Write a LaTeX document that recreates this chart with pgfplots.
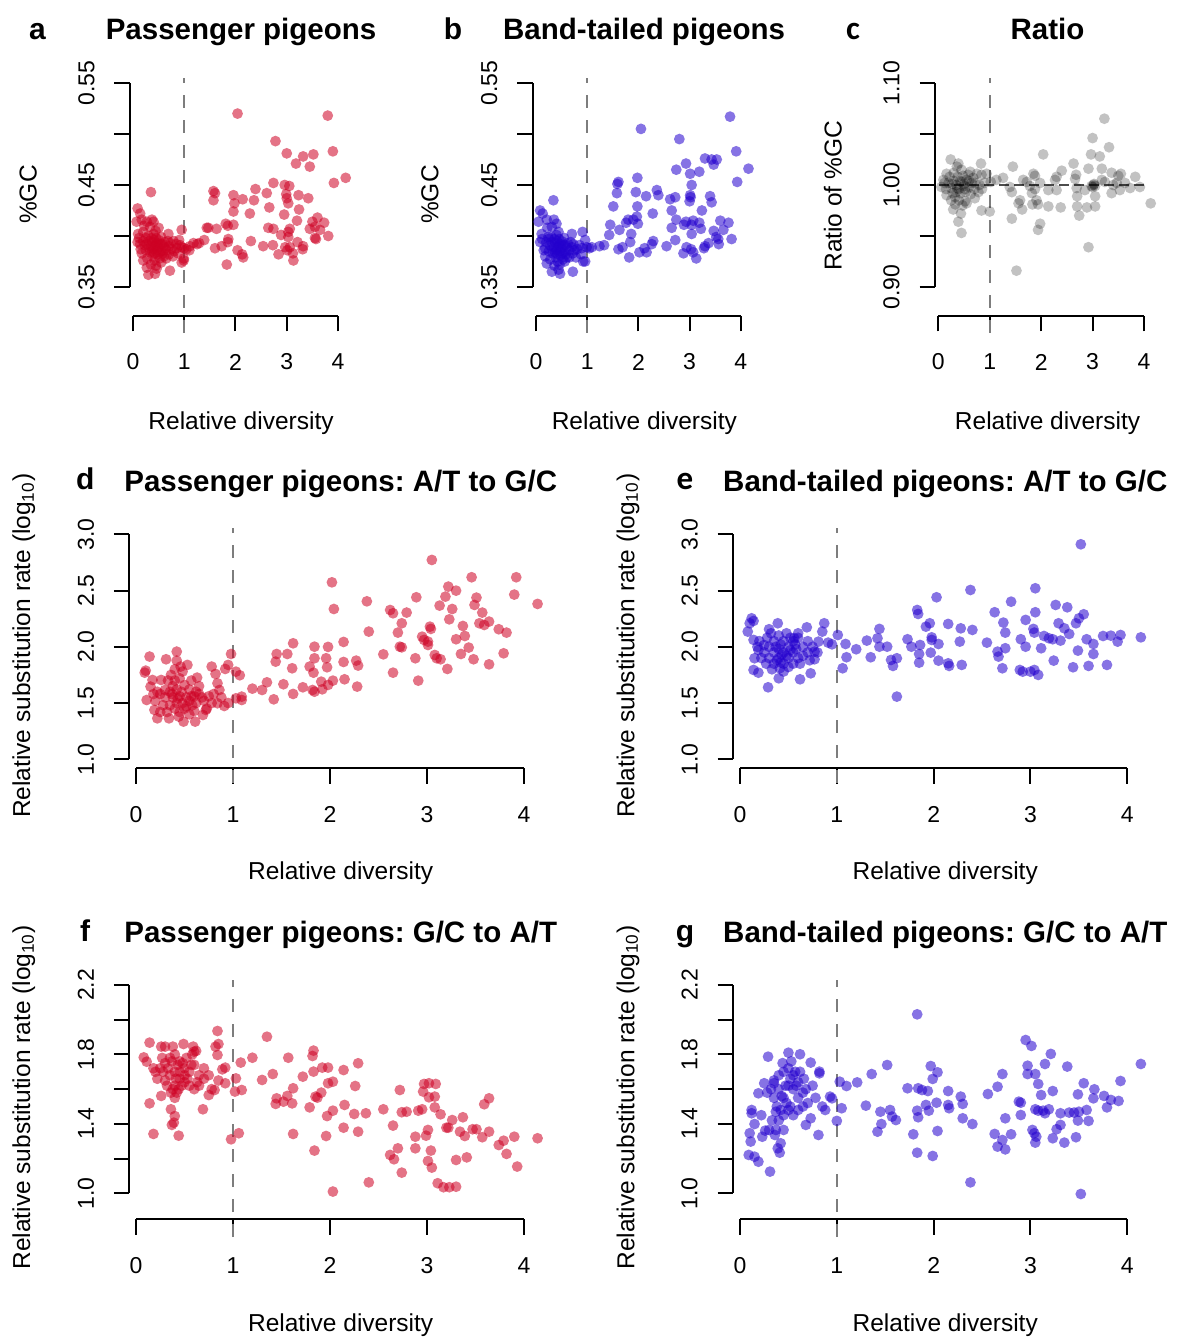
\documentclass[border=0pt]{standalone}
\usepackage{fontspec}
\setmainfont{Liberation Sans}
\newfontfamily\carlito{Carlito}
\usepackage{pgfplots}
\usepackage{pgfplotstable}
\pgfplotsset{compat=1.18}

\definecolor{pred}{RGB}{205,0,35}
\definecolor{pblue}{RGB}{35,0,205}
\definecolor{dashgray}{RGB}{125,125,125}

\pgfplotsset{
  every axis title shift=0pt,
  rpanel/.style={
    scale only axis,
    axis x line*=bottom, axis y line*=left,
    axis line style={-, line width=1pt, black},
    xmin=0, xmax=4, xtick={0,1,2,3,4},
    tick align=outside, major tick length=7.75pt,
    every tick/.style={black, line width=1pt},
    minor tick num=0,
    clip=false,
    /pgf/number format/assume math mode=true,
    tick label style={font=\fontsize{11.5}{13}\selectfont},
    xticklabel style={anchor=center},
    yticklabel style={rotate=90, anchor=center},
    xticklabel shift=15.25pt,
    yticklabel shift=14pt,
    label style={font=\fontsize{12.25}{14}\selectfont},
    title style={font=\fontsize{14.75}{17}\selectfont\bfseries, anchor=base},
    xlabel style={anchor=base},
    ylabel style={anchor=base},
    xlabel={Relative diversity},
  },
  pts/.style={only marks, mark=*, mark size=2.7pt, draw=none, fill=#1,
    mark options={fill=#1, draw opacity=0, fill opacity=0.55}},
  gpts/.style={only marks, mark=*, mark size=2.7pt, draw=none, fill=black,
    mark options={fill=black, draw opacity=0, fill opacity=0.24}},
  vdash/.style={dashgray, line width=0.85pt, dash pattern=on 6.5pt off 6pt},
}
\newcommand{\plet}[1]{\fontsize{15}{17}\selectfont\bfseries #1}
\newcommand{\pletc}[1]{\fontsize{16.5}{18}\selectfont\carlito\bfseries #1}

\pgfplotstableread{
x y
2.04 0.520
3.80 0.518
2.78 0.493
3.00 0.481
3.90 0.483
3.32 0.478
3.52 0.480
3.18 0.471
3.45 0.468
4.15 0.457
3.92 0.452
2.74 0.452
2.96 0.450
3.05 0.449
2.39 0.446
2.61 0.442
1.57 0.444
1.60 0.442
1.57 0.435
1.96 0.440
2.14 0.436
1.98 0.432
2.36 0.435
2.99 0.441
3.00 0.437
3.23 0.440
3.42 0.437
3.03 0.432
2.66 0.428
3.24 0.426
1.96 0.424
2.28 0.422
2.95 0.421
3.60 0.418
3.20 0.415
3.50 0.414
3.73 0.413
1.81 0.412
1.85 0.410
1.96 0.411
1.44 0.408
1.47 0.408
1.63 0.407
2.64 0.408
2.74 0.407
3.06 0.407
3.03 0.404
3.45 0.407
3.55 0.409
3.65 0.406
2.89 0.401
3.03 0.399
3.81 0.400
3.55 0.398
3.57 0.397
1.86 0.397
3.21 0.394
2.30 0.395
1.85 0.394
1.39 0.396
1.29 0.393
1.73 0.390
1.60 0.388
2.54 0.390
2.73 0.391
3.32 0.390
2.97 0.389
3.06 0.389
3.01 0.386
3.12 0.383
2.84 0.382
3.31 0.387
2.04 0.386
2.13 0.382
2.15 0.379
3.13 0.376
1.83 0.372
1.11 0.390
1.10 0.386
0.95 0.406
0.99 0.376
1.18 0.393
1.25 0.392
0.35 0.443
0.09 0.427
0.14 0.422
0.07 0.414
0.17 0.416
0.27 0.414
0.37 0.416
0.40 0.414
0.33 0.409
0.20 0.404
0.10 0.402
0.09 0.394
0.14 0.392
0.23 0.391
0.17 0.383
0.20 0.376
0.27 0.369
0.30 0.362
0.43 0.363
0.46 0.368
0.72 0.366
0.69 0.402
0.79 0.395
0.92 0.391
0.85 0.388
0.95 0.389
1.00 0.388
1.04 0.387
0.99 0.378
0.95 0.374
0.30 0.395
0.35 0.390
0.40 0.387
0.45 0.392
0.50 0.389
0.55 0.385
0.60 0.390
0.65 0.386
0.38 0.380
0.42 0.376
0.48 0.382
0.52 0.378
0.33 0.384
0.28 0.378
0.25 0.386
0.58 0.383
0.62 0.394
0.70 0.390
0.75 0.387
0.80 0.385
0.85 0.392
0.45 0.398
0.40 0.402
0.30 0.400
0.50 0.396
0.55 0.399
0.35 0.372
0.45 0.371
0.55 0.374
0.65 0.378
0.70 0.382
0.25 0.398
0.20 0.395
0.38 0.394
0.42 0.383
0.47 0.386
0.53 0.392
0.60 0.380
0.32 0.388
0.36 0.398
0.44 0.405
0.50 0.408
0.15 0.387
0.12 0.398
0.22 0.410
0.88 0.383
0.90 0.396
0.78 0.380
0.68 0.395
0.73 0.393
0.43 0.390
0.48 0.393
0.37 0.385
0.57 0.392
0.63 0.388
0.27 0.392
0.41 0.396
0.52 0.384
}\dataA

\pgfplotstableread{
x y
3.79 0.517
2.05 0.505
2.80 0.495
3.91 0.483
3.30 0.476
3.43 0.475
3.53 0.475
3.47 0.470
2.93 0.471
2.74 0.465
4.15 0.466
3.01 0.461
3.19 0.463
1.98 0.457
1.61 0.453
1.59 0.451
3.93 0.453
3.04 0.450
1.58 0.442
1.95 0.443
2.36 0.445
2.39 0.440
2.15 0.439
3.01 0.440
3.02 0.438
3.40 0.439
2.62 0.436
2.72 0.438
3.00 0.434
3.43 0.433
1.51 0.429
1.98 0.429
2.28 0.422
2.65 0.425
3.24 0.425
1.97 0.419
1.90 0.416
1.80 0.416
1.76 0.413
1.99 0.412
2.74 0.416
2.93 0.414
3.07 0.415
3.19 0.413
3.60 0.415
3.76 0.413
1.45 0.411
1.43 0.401
1.63 0.406
2.65 0.408
2.89 0.411
3.04 0.411
3.22 0.407
3.47 0.405
3.66 0.406
3.04 0.402
3.52 0.399
3.56 0.397
3.82 0.397
2.72 0.396
1.86 0.402
1.84 0.394
2.29 0.395
2.26 0.392
1.69 0.389
1.61 0.387
2.55 0.390
2.94 0.389
3.03 0.387
3.30 0.390
3.37 0.393
3.57 0.392
2.02 0.384
2.16 0.384
2.12 0.388
2.88 0.383
3.07 0.384
3.13 0.378
3.28 0.388
1.82 0.379
1.33 0.391
1.09 0.389
1.04 0.388
0.96 0.375
1.24 0.390
0.34 0.435
0.08 0.425
0.13 0.422
0.05 0.414
0.21 0.416
0.35 0.416
0.40 0.412
0.31 0.409
0.11 0.402
0.24 0.399
0.08 0.394
0.18 0.388
0.21 0.373
0.18 0.380
0.31 0.365
0.47 0.363
0.44 0.367
0.72 0.365
0.70 0.402
0.91 0.404
0.96 0.396
0.89 0.388
0.99 0.389
0.92 0.375
0.30 0.394
0.35 0.389
0.40 0.386
0.45 0.391
0.50 0.388
0.55 0.384
0.60 0.389
0.65 0.386
0.38 0.379
0.42 0.375
0.48 0.381
0.52 0.377
0.33 0.383
0.28 0.377
0.25 0.385
0.58 0.382
0.62 0.393
0.70 0.389
0.75 0.386
0.80 0.387
0.85 0.391
0.45 0.397
0.40 0.401
0.30 0.399
0.50 0.395
0.55 0.398
0.36 0.371
0.46 0.372
0.56 0.375
0.65 0.379
0.72 0.383
0.25 0.397
0.20 0.394
0.38 0.393
0.42 0.382
0.47 0.385
0.53 0.391
0.60 0.379
0.32 0.387
0.36 0.397
0.44 0.404
0.15 0.386
0.12 0.397
0.22 0.408
0.88 0.382
0.78 0.379
0.68 0.394
0.73 0.392
0.43 0.389
0.48 0.392
0.37 0.384
0.57 0.391
0.27 0.391
0.41 0.395
0.52 0.383
}\dataB

\pgfplotstableread{
x y
3.23 1.065
3.00 1.046
3.32 1.037
2.97 1.030
3.14 1.028
2.04 1.030
2.63 1.021
1.45 1.018
3.18 1.016
2.40 1.014
2.92 1.016
2.68 1.010
1.85 1.011
1.88 1.009
2.30 1.008
2.27 1.005
3.37 1.012
3.55 1.011
3.50 1.009
3.83 1.008
1.26 1.007
1.65 1.005
1.72 1.003
1.98 1.002
2.66 1.006
3.18 1.005
3.24 1.003
3.40 1.000
3.47 1.002
3.63 1.002
3.73 0.997
3.92 0.998
2.98 0.999
3.05 0.999
3.02 1.000
3.00 0.998
3.03 1.001
1.78 0.999
1.88 0.996
1.82 0.992
2.14 0.995
2.30 0.995
1.43 0.993
1.39 0.998
2.69 0.997
2.85 0.995
3.37 0.992
3.53 0.995
1.59 0.985
1.56 0.982
1.91 0.985
1.94 0.981
1.83 0.981
2.70 0.989
3.05 0.989
2.14 0.979
2.38 0.978
1.63 0.976
2.70 0.979
2.89 0.978
3.05 0.979
4.13 0.982
0.84 0.975
1.43 0.967
2.74 0.970
1.98 0.962
1.94 0.956
2.92 0.939
1.52 0.916
1.00 0.974
1.02 1.003
0.94 1.011
1.13 1.005
0.83 1.021
0.24 1.025
0.39 1.021
0.36 1.018
0.16 1.011
0.10 1.005
0.06 0.998
0.16 0.990
0.29 0.976
0.39 0.964
0.45 0.953
0.52 0.984
0.71 0.987
0.78 0.993
0.62 1.013
0.75 1.011
0.84 1.010
0.30 1.012
0.45 1.015
0.20 1.002
0.25 0.997
0.30 1.004
0.35 1.000
0.40 0.996
0.45 1.003
0.50 0.999
0.55 1.005
0.60 0.998
0.65 1.002
0.70 0.996
0.28 0.992
0.33 0.988
0.38 1.008
0.43 0.992
0.48 1.009
0.53 0.993
0.58 1.010
0.63 0.991
0.22 1.008
0.15 0.996
0.12 1.002
0.40 0.985
0.47 0.980
0.55 0.982
0.35 0.993
0.42 1.004
0.50 1.001
0.37 0.997
0.52 0.996
0.27 1.001
0.60 1.004
0.68 1.007
0.72 1.002
0.80 1.000
0.85 0.996
0.90 1.002
0.33 0.981
0.44 0.972
0.25 0.985
}\dataC

\pgfplotstableread{
x y
3.05 2.772
2.02 2.573
3.46 2.618
3.92 2.618
3.90 2.464
4.14 2.381
2.38 2.404
2.04 2.336
3.22 2.535
3.30 2.499
3.19 2.446
2.89 2.440
3.51 2.437
3.49 2.372
3.13 2.366
3.26 2.336
2.62 2.327
2.65 2.298
2.79 2.304
3.57 2.304
3.23 2.244
2.74 2.209
3.54 2.209
3.59 2.194
3.64 2.224
3.37 2.185
3.74 2.156
3.82 2.126
2.40 2.135
2.70 2.126
3.03 2.179
3.04 2.159
2.95 2.090
2.97 2.061
3.01 2.046
3.01 2.016
3.39 2.096
3.30 2.067
2.72 2.001
2.74 1.995
3.43 1.993
2.55 1.933
3.35 1.936
3.79 1.942
3.08 1.927
3.10 1.898
2.88 1.898
3.48 1.889
3.14 1.889
3.64 1.844
3.21 1.803
2.65 1.770
2.91 1.699
2.14 2.043
1.98 1.999
1.84 2.001
1.62 2.031
1.45 1.936
1.44 1.868
1.56 1.936
1.84 1.898
1.96 1.898
1.61 1.809
1.79 1.824
1.83 1.770
1.97 1.818
2.14 1.865
2.27 1.877
2.29 1.833
2.03 1.699
2.15 1.711
1.91 1.690
1.98 1.661
1.92 1.622
1.82 1.616
1.84 1.601
1.72 1.640
1.62 1.581
1.52 1.667
1.35 1.684
1.30 1.616
1.20 1.628
1.42 1.533
2.28 1.646
0.98 1.936
1.03 1.779
1.07 1.747
1.03 1.542
1.09 1.557
1.09 1.527
0.92 1.803
0.95 1.839
0.14 1.913
0.42 1.957
0.31 1.889
0.10 1.788
0.09 1.770
0.17 1.705
0.15 1.646
0.11 1.527
0.19 1.439
0.22 1.364
0.34 1.364
0.49 1.335
0.61 1.335
0.26 1.705
0.30 1.616
0.53 1.839
0.46 1.824
0.42 1.877
0.63 1.726
0.78 1.824
0.82 1.759
0.84 1.676
0.86 1.616
0.84 1.498
0.91 1.474
0.72 1.439
0.69 1.394
0.30 1.55
0.35 1.60
0.38 1.65
0.40 1.70
0.42 1.62
0.45 1.56
0.48 1.50
0.50 1.45
0.52 1.55
0.55 1.52
0.58 1.48
0.60 1.56
0.62 1.50
0.65 1.58
0.68 1.55
0.70 1.52
0.35 1.48
0.40 1.45
0.45 1.42
0.38 1.55
0.42 1.50
0.33 1.70
0.36 1.75
0.45 1.72
0.50 1.66
0.55 1.62
0.25 1.58
0.28 1.48
0.20 1.52
0.22 1.60
0.32 1.42
0.44 1.38
0.55 1.40
0.60 1.43
0.75 1.56
0.78 1.50
0.80 1.58
0.48 1.78
0.40 1.80
0.57 1.70
0.65 1.65
0.25 1.42
0.18 1.58
0.52 1.47
0.47 1.60
0.43 1.54
0.37 1.58
0.57 1.56
0.62 1.60
0.73 1.45
0.88 1.55
0.95 1.50
}\dataD

\pgfplotstableread{
x y
3.52 2.911
2.38 2.505
3.05 2.520
2.03 2.440
2.80 2.401
3.26 2.372
3.38 2.351
1.83 2.327
1.84 2.292
2.63 2.307
3.05 2.307
3.55 2.289
3.50 2.253
3.47 2.209
2.95 2.239
2.72 2.215
2.74 2.126
3.29 2.209
3.35 2.164
3.40 2.114
1.96 2.209
1.92 2.179
2.15 2.203
2.28 2.164
2.40 2.150
3.03 2.159
3.04 2.126
3.14 2.096
3.19 2.076
3.23 2.067
1.44 2.159
1.42 2.076
1.44 2.001
1.73 2.067
1.31 2.055
1.52 2.001
1.20 1.978
1.35 1.907
1.09 2.025
1.10 1.907
1.01 2.105
1.06 1.809
1.56 1.883
1.58 1.830
1.62 1.898
1.62 1.557
1.77 2.001
1.86 2.016
1.85 1.936
1.85 1.859
1.98 2.084
1.98 2.061
2.05 2.025
1.97 1.948
2.05 1.877
2.15 1.853
2.16 1.830
2.27 2.046
2.29 1.839
2.55 2.037
2.66 1.957
2.67 1.913
2.71 1.809
2.74 1.987
2.90 2.067
2.95 2.001
2.89 1.794
2.92 1.779
3.00 1.779
3.04 1.794
3.08 1.750
3.11 1.987
3.24 1.877
3.31 2.055
3.44 1.818
3.49 1.966
3.58 2.067
3.65 2.025
3.65 1.936
3.60 1.830
3.75 2.096
3.83 2.099
3.93 2.105
3.90 2.046
3.79 1.839
4.14 2.084
0.12 2.253
0.14 2.230
0.10 2.209
0.08 2.135
0.14 2.061
0.14 1.794
0.19 1.770
0.29 1.640
0.40 1.720
0.41 1.809
0.62 1.711
0.73 1.764
0.69 2.173
0.39 2.209
0.30 2.156
0.60 2.120
0.56 2.076
0.87 2.209
0.85 2.135
0.81 2.046
0.91 2.037
0.95 2.022
0.77 1.957
0.77 1.889
0.15 1.898
0.19 1.972
0.25 2.016
0.25 1.95
0.30 1.90
0.35 1.85
0.40 1.90
0.45 1.95
0.50 2.00
0.55 1.95
0.60 1.90
0.65 2.00
0.30 2.00
0.35 2.05
0.40 2.10
0.45 2.05
0.50 1.90
0.55 2.05
0.60 2.08
0.35 1.95
0.40 1.98
0.45 1.85
0.50 1.82
0.38 1.88
0.42 2.02
0.48 1.92
0.52 1.97
0.58 1.98
0.62 1.85
0.65 1.92
0.70 1.95
0.70 2.05
0.32 2.12
0.28 2.08
0.22 1.90
0.20 2.05
0.27 1.85
0.33 1.80
0.45 1.78
0.55 1.85
0.72 1.88
0.48 2.12
0.52 2.08
0.37 2.00
0.43 1.93
0.57 2.02
0.75 2.00
0.80 1.95
0.18 2.00
0.42 1.86
}\dataE

\pgfplotstableread{
x y
1.35 1.902
0.84 1.935
0.85 1.860
1.20 1.781
1.57 1.781
1.83 1.822
1.82 1.791
2.29 1.749
1.08 1.753
2.14 1.710
1.92 1.724
1.98 1.724
1.83 1.701
1.41 1.687
1.72 1.672
1.30 1.653
2.03 1.643
1.98 1.634
2.26 1.618
1.62 1.605
1.91 1.580
1.85 1.557
1.87 1.551
1.56 1.561
1.45 1.547
1.44 1.515
1.52 1.528
1.61 1.518
2.15 1.509
1.79 1.495
2.03 1.476
1.97 1.445
2.37 1.461
2.55 1.484
2.74 1.467
2.79 1.470
2.72 1.595
2.97 1.630
3.02 1.634
2.96 1.586
3.09 1.630
3.02 1.553
3.08 1.557
3.08 1.495
2.91 1.476
2.95 1.484
3.14 1.455
2.65 1.390
3.26 1.422
3.20 1.378
3.22 1.378
3.37 1.438
3.34 1.355
3.39 1.330
3.47 1.369
3.51 1.369
3.57 1.323
3.64 1.355
3.59 1.513
3.64 1.547
3.01 1.365
2.99 1.332
2.88 1.326
3.74 1.278
3.79 1.303
3.90 1.326
4.14 1.317
3.82 1.227
3.93 1.154
3.41 1.207
3.30 1.192
3.04 1.246
3.01 1.186
3.05 1.148
2.88 1.259
2.70 1.259
2.62 1.221
2.66 1.196
2.74 1.119
3.11 1.058
3.17 1.035
3.23 1.035
3.30 1.038
2.40 1.063
2.03 1.010
2.25 1.457
2.29 1.355
2.14 1.378
1.96 1.330
1.84 1.246
1.62 1.342
0.98 1.311
1.06 1.346
1.02 1.586
1.09 1.595
1.03 1.662
0.14 1.868
0.08 1.783
0.11 1.758
0.14 1.518
0.18 1.342
0.37 1.394
0.39 1.407
0.44 1.332
0.40 1.445
0.36 1.484
0.69 1.484
0.26 1.845
0.30 1.845
0.38 1.845
0.49 1.860
0.59 1.845
0.60 1.816
0.82 1.845
0.84 1.797
0.92 1.724
0.89 1.714
0.92 1.634
0.81 1.595
0.75 1.566
0.26 1.561
0.20 1.70
0.25 1.72
0.30 1.75
0.35 1.78
0.40 1.80
0.45 1.76
0.50 1.72
0.55 1.70
0.60 1.74
0.65 1.68
0.70 1.66
0.30 1.65
0.35 1.68
0.40 1.70
0.45 1.66
0.50 1.64
0.55 1.62
0.60 1.60
0.38 1.60
0.42 1.58
0.40 1.62
0.45 1.70
0.50 1.68
0.48 1.75
0.52 1.78
0.58 1.80
0.62 1.82
0.28 1.70
0.22 1.66
0.18 1.72
0.33 1.72
0.43 1.74
0.36 1.58
0.40 1.55
0.44 1.60
0.65 1.62
0.70 1.72
0.75 1.68
0.78 1.60
0.85 1.65
0.32 1.62
0.47 1.62
0.53 1.66
0.57 1.74
0.41 1.66
0.37 1.76
0.27 1.78
0.63 1.64
}\dataF

\pgfplotstableread{
x y
1.83 2.031
2.95 1.883
3.01 1.849
3.21 1.803
4.14 1.745
1.52 1.739
1.97 1.733
3.15 1.745
3.38 1.730
2.04 1.697
1.36 1.687
2.97 1.735
2.97 1.687
3.05 1.687
2.71 1.687
1.99 1.659
1.21 1.639
1.03 1.643
1.10 1.618
3.08 1.630
3.55 1.634
3.93 1.647
2.66 1.614
1.73 1.605
1.84 1.605
1.88 1.595
1.94 1.589
2.15 1.589
2.56 1.572
3.11 1.566
3.23 1.589
3.49 1.570
3.66 1.599
3.65 1.547
3.76 1.561
3.83 1.538
3.91 1.532
3.79 1.495
2.28 1.557
2.30 1.515
2.03 1.522
1.92 1.509
1.95 1.476
2.15 1.509
2.16 1.490
1.30 1.505
1.05 1.490
1.45 1.470
1.55 1.480
1.57 1.442
1.61 1.422
1.83 1.476
1.84 1.438
2.88 1.528
2.90 1.522
3.05 1.484
3.08 1.476
3.13 1.476
3.19 1.484
3.31 1.461
3.40 1.465
3.45 1.465
3.50 1.470
3.58 1.480
2.90 1.451
3.15 1.461
3.49 1.419
3.60 1.417
2.74 1.432
2.30 1.432
2.40 1.399
1.46 1.399
1.42 1.355
2.04 1.359
1.79 1.340
2.63 1.342
2.80 1.340
3.02 1.365
3.04 1.346
3.06 1.326
3.05 1.292
3.27 1.369
3.23 1.317
3.31 1.394
3.47 1.323
3.35 1.292
2.66 1.269
2.71 1.307
2.74 1.253
1.83 1.234
1.99 1.215
2.38 1.063
3.52 0.996
1.00 1.417
0.29 1.787
0.50 1.810
0.62 1.801
0.73 1.753
0.82 1.701
0.82 1.691
0.93 1.557
0.95 1.547
0.81 1.336
0.73 1.432
0.68 1.394
0.12 1.480
0.12 1.461
0.10 1.346
0.11 1.298
0.09 1.221
0.15 1.211
0.19 1.182
0.31 1.125
0.15 1.399
0.19 1.576
0.23 1.326
0.26 1.361
0.30 1.365
0.36 1.336
0.37 1.365
0.45 1.365
0.39 1.259
0.41 1.234
0.42 1.288
0.25 1.634
0.35 1.634
0.35 1.65
0.40 1.60
0.45 1.55
0.50 1.62
0.55 1.68
0.60 1.64
0.65 1.58
0.40 1.68
0.45 1.70
0.50 1.72
0.55 1.60
0.60 1.55
0.38 1.50
0.42 1.48
0.48 1.52
0.52 1.50
0.58 1.62
0.62 1.70
0.68 1.60
0.70 1.52
0.35 1.55
0.32 1.60
0.28 1.58
0.40 1.42
0.45 1.45
0.50 1.48
0.55 1.45
0.65 1.50
0.75 1.62
0.78 1.55
0.85 1.50
0.88 1.48
0.52 1.66
0.57 1.70
0.47 1.62
0.43 1.56
0.37 1.47
0.33 1.42
0.22 1.45
0.60 1.48
0.44 1.75
0.53 1.76
0.66 1.66
}\dataG

\begin{document}
\frenchspacing
\begin{tikzpicture}
\useasboundingbox (0,0) rectangle (590pt,669pt);

% ---------- a ----------
\begin{axis}[rpanel, at={(66.5pt,525.5pt)}, anchor=south west,
  width=102.5pt, height=102pt,
  ymin=0.35, ymax=0.55, ytick={0.35,0.40,0.45,0.50,0.55},
  yticklabels={0.35,,0.45,,0.55},
  axis x line shift=14.5pt, axis y line shift=1.5pt,
  title={Passenger pigeons},
  title style={at={(axis description cs:0.527,1.211)}},
  xlabel style={at={(axis description cs:0.527,-0.6975)}},
  ylabel={\%GC}, ylabel style={at={(axis description cs:-0.470,0.453)}},
]
\addplot[pts=pred] table {\dataA};
\addplot[vdash] coordinates {(1,0.305) (1,0.555)};
\node[anchor=base] at (axis description cs:-0.466,1.214) {\plet{a}};
\end{axis}

% ---------- b ----------
\begin{axis}[rpanel, at={(268pt,525.5pt)}, anchor=south west,
  width=102.4pt, height=102pt,
  ymin=0.35, ymax=0.55, ytick={0.35,0.40,0.45,0.50,0.55},
  yticklabels={0.35,,0.45,,0.55},
  axis x line shift=14.5pt, axis y line shift=1.6pt,
  title={Band-tailed pigeons},
  title style={at={(axis description cs:0.528,1.211)}},
  xlabel style={at={(axis description cs:0.529,-0.6975)}},
  ylabel={\%GC}, ylabel style={at={(axis description cs:-0.477,0.453)}},
]
\addplot[pts=pblue] table {\dataB};
\addplot[vdash] coordinates {(1,0.305) (1,0.555)};
\node[anchor=base] at (axis description cs:-0.405,1.214) {\plet{b}};
\end{axis}

% ---------- c ----------
\begin{axis}[rpanel, at={(469.15pt,525.5pt)}, anchor=south west,
  width=102.85pt, height=102pt,
  ymin=0.90, ymax=1.10, ytick={0.90,0.95,1.00,1.05,1.10},
  yticklabels={0.90,,1.00,,1.10},
  axis x line shift=14.5pt, axis y line shift=1.65pt,
  title={Ratio},
  title style={at={(axis description cs:0.531,1.211)}},
  xlabel style={at={(axis description cs:0.531,-0.6975)}},
  ylabel={Ratio of \%GC}, ylabel style={at={(axis description cs:-0.470,0.447)}},
]
\addplot[gpts] table {\dataC};
\addplot[black, opacity=0.7, line width=0.9pt, dash pattern=on 5pt off 2.5pt] coordinates {(0.02,1) (4.05,1)};
\addplot[vdash] coordinates {(1,0.855) (1,1.105)};
\node[anchor=base] at (axis description cs:-0.415,1.214) {\pletc{c}};
\end{axis}

% ---------- d ----------
\begin{axis}[rpanel, at={(68pt,289.35pt)}, anchor=south west,
  width=194pt, height=112.5pt,
  ymin=1, ymax=3, ytick={1,1.5,2,2.5,3},
  yticklabels={1.0,1.5,2.0,2.5,3.0},
  axis x line shift=4.5pt, axis y line shift=3.3pt,
  title={Passenger pigeons: A/T to G/C},
  title style={at={(axis description cs:0.5276,1.189)}},
  xlabel style={at={(axis description cs:0.5276,-0.536)}},
  ylabel={Relative substitution rate (log\textsubscript{10})},
  ylabel style={at={(axis description cs:-0.273,0.504)}},
]
\addplot[pts=pred] table {\dataD};
\addplot[vdash] coordinates {(1,0.789) (1,3.056)};
\node[anchor=base] at (axis description cs:-0.131,1.197) {\plet{d}};
\end{axis}

% ---------- e ----------
\begin{axis}[rpanel, at={(370pt,289.35pt)}, anchor=south west,
  width=193.65pt, height=112.5pt,
  ymin=1, ymax=3, ytick={1,1.5,2,2.5,3},
  yticklabels={1.0,1.5,2.0,2.5,3.0},
  axis x line shift=4.5pt, axis y line shift=3.4pt,
  title={Band-tailed pigeons: A/T to G/C},
  title style={at={(axis description cs:0.530,1.189)}},
  xlabel style={at={(axis description cs:0.530,-0.536)}},
  ylabel={Relative substitution rate (log\textsubscript{10})},
  ylabel style={at={(axis description cs:-0.273,0.504)}},
]
\addplot[pts=pblue] table {\dataE};
\addplot[vdash] coordinates {(1,0.789) (1,3.056)};
\node[anchor=base] at (axis description cs:-0.142,1.197) {\pletc{e}};
\end{axis}

% ---------- f ----------
\begin{axis}[rpanel, at={(68pt,72.35pt)}, anchor=south west,
  width=194pt, height=104.15pt,
  ymin=1, ymax=2.2, ytick={1,1.2,1.4,1.6,1.8,2,2.2},
  yticklabels={1.0,,1.4,,1.8,,2.2},
  axis x line shift=13pt, axis y line shift=3.3pt,
  title={Passenger pigeons: G/C to A/T},
  title style={at={(axis description cs:0.5276,1.203)}},
  xlabel style={at={(axis description cs:0.5276,-0.664)}},
  ylabel={Relative substitution rate (log\textsubscript{10})},
  ylabel style={at={(axis description cs:-0.273,0.46)}},
]
\addplot[pts=pred] table {\dataF};
\addplot[vdash] coordinates {(1,0.748) (1,2.229)};
\node[anchor=base] at (axis description cs:-0.131,1.21) {\plet{f}};
\end{axis}

% ---------- g ----------
\begin{axis}[rpanel, at={(370pt,72.35pt)}, anchor=south west,
  width=193.65pt, height=104.15pt,
  ymin=1, ymax=2.2, ytick={1,1.2,1.4,1.6,1.8,2,2.2},
  yticklabels={1.0,,1.4,,1.8,,2.2},
  axis x line shift=13pt, axis y line shift=3.5pt,
  title={Band-tailed pigeons: G/C to A/T},
  title style={at={(axis description cs:0.530,1.203)}},
  xlabel style={at={(axis description cs:0.530,-0.664)}},
  ylabel={Relative substitution rate (log\textsubscript{10})},
  ylabel style={at={(axis description cs:-0.273,0.46)}},
]
\addplot[pts=pblue] table {\dataG};
\addplot[vdash] coordinates {(1,0.748) (1,2.229)};
\node[anchor=base] at (axis description cs:-0.142,1.21) {\plet{g}};
\end{axis}

\end{tikzpicture}
\end{document}
